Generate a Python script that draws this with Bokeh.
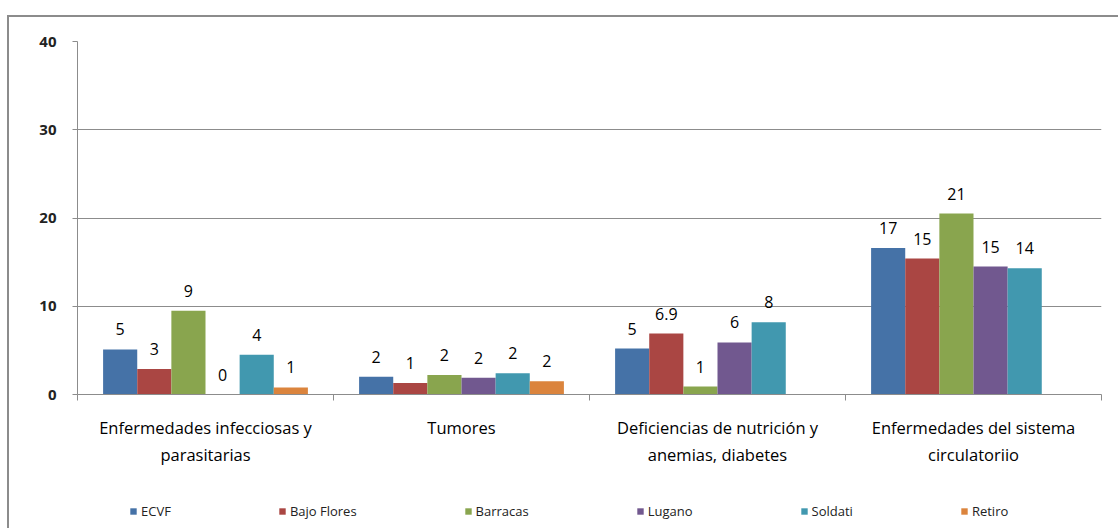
from bokeh.plotting import figure
from bokeh.layouts import column
from bokeh.models import (Range1d, FixedTicker, Legend, LegendItem,
                          ColumnDataSource)
from bokeh.core.properties import value
from bokeh.embed import file_html
from bokeh.resources import INLINE

NAN = float("nan")

categories = [
    "Enfermedades infecciosas y\nparasitarias",
    "Tumores",
    "Deficiencias de nutrición y\nanemias, diabetes",
    "Enfermedades del sistema\ncirculatoriio",
]
series = ["ECVF", "Bajo Flores", "Barracas", "Lugano", "Soldati", "Retiro"]
colors = ["#4572A7", "#AA4643", "#89A54E", "#71588F", "#4198AF", "#DB843D"]

ecvf = [5.1, 2.0, 5.2, 16.6]
bajo_flores = [2.9, 1.3, 6.9, 15.4]
barracas = [9.5, 2.2, 0.9, 20.5]
lugano = [0.0, 1.9, 5.9, 14.5]
soldati = [4.5, 2.4, 8.2, 14.3]
retiro = [0.8, 1.5, NAN, NAN]

ecvf_labels = ["5", "2", "5", "17"]
bajo_flores_labels = ["3", "1", "6.9", "15"]
barracas_labels = ["9", "2", "1", "21"]
lugano_labels = ["0", "2", "6", "15"]
soldati_labels = ["4", "2", "8", "14"]
retiro_labels = ["1", "2", "", ""]

y_ticks = [0, 10, 20, 30, 40]

values = [ecvf, bajo_flores, barracas, lugano, soldati, retiro]
labels = [ecvf_labels, bajo_flores_labels, barracas_labels, lugano_labels,
          soldati_labels, retiro_labels]

FONT = "Open Sans"
GRID = "#8c8c8c"

p = figure(width=1118, height=495, output_backend="svg", toolbar_location=None,
           x_range=Range1d(0, len(categories)), y_range=Range1d(0, 40),
           min_border_left=77, min_border_top=41, min_border_right=17,
           min_border_bottom=101)
p.outline_line_color = None
p.background_fill_color = "white"
p.border_fill_color = None

group = 0.8
w = group / len(series)
for j, (name, vals, labs, col) in enumerate(zip(series, values, labels, colors)):
    xs = [i + 0.5 - group / 2 + (j + 0.5) * w for i in range(len(categories))]
    src = ColumnDataSource(dict(x=xs, top=vals, lab=labs))
    p.vbar(x="x", top="top", width=w, bottom=0, source=src,
           fill_color=col, line_color=None)
    p.text(x="x", y="top", text="lab", source=src, text_align="center",
           text_baseline="middle", y_offset=-20, text_font=value(FONT),
           text_font_size="16px", text_color="#000000")

# y axis
p.yaxis.ticker = FixedTicker(ticks=y_ticks)
p.yaxis.axis_line_color = GRID
p.yaxis.major_tick_line_color = GRID
p.yaxis.major_tick_out = 5
p.yaxis.major_tick_in = 0
p.yaxis.minor_tick_line_color = None
p.yaxis.major_label_text_font = FONT
p.yaxis.major_label_text_font_style = "bold"
p.yaxis.major_label_text_font_size = "15px"
p.yaxis.major_label_text_color = "#222222"
p.yaxis.major_label_standoff = 16

# x axis
centers = [i + 0.5 for i in range(len(categories))]
p.xaxis.ticker = FixedTicker(ticks=centers,
                             minor_ticks=list(range(len(categories) + 1)))
p.xaxis.major_label_overrides = {c: lab for c, lab in zip(centers, categories)}
p.xaxis.axis_line_color = GRID
p.xaxis.major_tick_line_color = None
p.xaxis.major_tick_out = 0
p.xaxis.major_tick_in = 0
p.xaxis.minor_tick_line_color = GRID
p.xaxis.minor_tick_out = 6
p.xaxis.minor_tick_in = 0
p.xaxis.major_label_text_font = FONT
p.xaxis.major_label_text_font_size = "16.5px"
p.xaxis.major_label_text_color = "#000000"
p.xaxis.major_label_standoff = 15

p.xgrid.grid_line_color = None
p.ygrid.ticker = FixedTicker(ticks=y_ticks)
p.ygrid.grid_line_color = GRID
p.ygrid.grid_line_width = 1

# legend in a small strip below the chart
lg = figure(width=1118, height=33, output_backend="svg", toolbar_location=None,
            x_range=Range1d(0, 1), y_range=Range1d(0, 1),
            x_axis_location=None, y_axis_location=None, min_border=0)
lg.outline_line_color = None
lg.background_fill_color = None
lg.border_fill_color = None
lg.grid.visible = False
items = []
for name, col in zip(series, colors):
    r = lg.vbar(x=[-5], top=[-5], bottom=[-6], width=0.1, fill_color=col,
                line_color=None)
    items.append(LegendItem(label=name, renderers=[r]))
legend = Legend(items=items, orientation="horizontal", location=(52, 8),
                spacing=107, padding=0, margin=0, glyph_width=8,
                glyph_height=8, label_standoff=4, label_height=14,
                label_text_font=FONT, label_text_font_size="13px",
                label_text_color="#222222", border_line_color=None,
                background_fill_alpha=0)
lg.add_layout(legend, "center")

layout = column(p, lg, spacing=0)
layout.styles = {
    "background": ("linear-gradient(#8c8c8c, #8c8c8c) 7px 15px / 2px 600px no-repeat, "
                   "linear-gradient(#8c8c8c, #8c8c8c) 7px 15px / 1200px 2px no-repeat, "
                   "white"),
}

open("out.html", "w").write(file_html(layout, INLINE))
